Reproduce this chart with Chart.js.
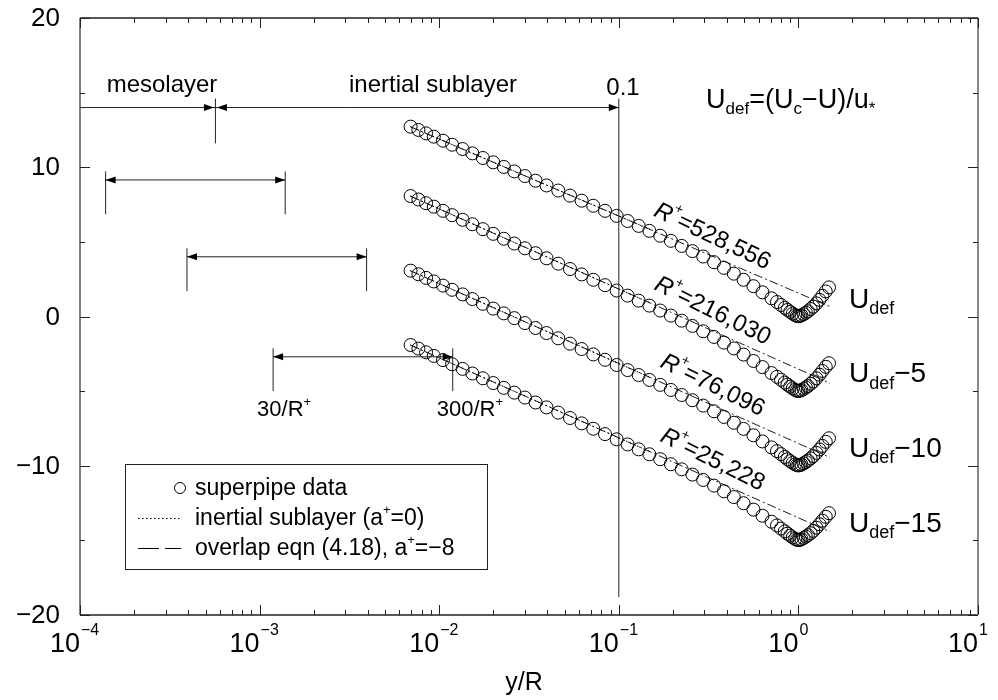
<!DOCTYPE html>
<html>
<head>
<meta charset="utf-8">
<script src="https://cdn.jsdelivr.net/npm/chart.js@4.4.0/dist/chart.umd.min.js"></script>
<style>
  html, body { margin: 0; padding: 0; background: #fff; }
  #wrap { width: 998px; height: 700px; position: relative; }
</style>
</head>
<body>
<div id="wrap"><canvas id="c"></canvas></div>
<script>
// Wall distance of the measurement stations, y/R
const yOverR = [0.00693, 0.00766, 0.00845, 0.00933, 0.0105, 0.0118, 0.0135, 0.0153, 0.0175, 0.0200,
  0.0229, 0.0262, 0.0300, 0.0344, 0.0396, 0.0460, 0.0535, 0.0621, 0.0721, 0.0838,
  0.0973, 0.112, 0.129, 0.148, 0.170, 0.195, 0.224, 0.257, 0.295, 0.339,
  0.385, 0.437, 0.495, 0.562, 0.631, 0.708, 0.76, 0.80, 0.84, 0.87,
  0.90, 0.93, 0.96, 0.98, 1.00, 1.02, 1.04, 1.07, 1.10, 1.13,
  1.17, 1.21, 1.26, 1.31, 1.36, 1.42, 1.48];

// Velocity defect (Uc-U)/u* for each Reynolds number
const udefR528556 = [12.72, 12.50, 12.27, 12.05, 11.78, 11.51, 11.22, 10.93, 10.62, 10.33,
  10.02, 9.72, 9.41, 9.10, 8.78, 8.44, 8.10, 7.76, 7.42, 7.08,
  6.74, 6.40, 6.07, 5.74, 5.41, 5.07, 4.73, 4.38, 4.02, 3.64,
  3.26, 2.87, 2.46, 2.03, 1.62, 1.22, 0.97, 0.77, 0.58, 0.44,
  0.31, 0.19, 0.09, 0.04, 0.02, 0.04, 0.08, 0.16, 0.25, 0.35,
  0.50, 0.66, 0.88, 1.12, 1.38, 1.68, 1.95];
const udefR216030 = [13.07, 12.84, 12.59, 12.36, 12.08, 11.79, 11.48, 11.18, 10.85, 10.54,
  10.21, 9.89, 9.57, 9.24, 8.90, 8.54, 8.18, 7.82, 7.46, 7.10,
  6.74, 6.40, 6.06, 5.73, 5.40, 5.06, 4.72, 4.37, 4.01, 3.63,
  3.25, 2.86, 2.45, 2.02, 1.61, 1.21, 0.96, 0.76, 0.57, 0.43,
  0.30, 0.18, 0.08, 0.03, 0.01, 0.03, 0.07, 0.15, 0.24, 0.34,
  0.49, 0.65, 0.86, 1.10, 1.35, 1.63, 1.87];
const udefR76096 = [13.07, 12.83, 12.59, 12.35, 12.07, 11.79, 11.48, 11.17, 10.85, 10.53,
  10.21, 9.89, 9.56, 9.23, 8.89, 8.54, 8.18, 7.82, 7.46, 7.10,
  6.75, 6.41, 6.08, 5.75, 5.42, 5.08, 4.74, 4.39, 4.03, 3.65,
  3.27, 2.88, 2.47, 2.04, 1.63, 1.23, 0.98, 0.78, 0.59, 0.44,
  0.31, 0.19, 0.09, 0.04, 0.02, 0.04, 0.08, 0.16, 0.25, 0.35,
  0.49, 0.65, 0.86, 1.09, 1.33, 1.60, 1.84];
const udefR25228 = [13.09, 12.85, 12.60, 12.36, 12.08, 11.80, 11.49, 11.18, 10.86, 10.54,
  10.22, 9.90, 9.57, 9.24, 8.91, 8.56, 8.20, 7.84, 7.48, 7.12,
  6.77, 6.43, 6.10, 5.77, 5.44, 5.10, 4.76, 4.41, 4.05, 3.67,
  3.29, 2.90, 2.49, 2.06, 1.65, 1.25, 1.00, 0.79, 0.60, 0.45,
  0.32, 0.20, 0.10, 0.04, 0.02, 0.04, 0.08, 0.16, 0.25, 0.35,
  0.48, 0.64, 0.85, 1.08, 1.32, 1.58, 1.82];

const udefSeries = [udefR528556, udefR216030, udefR76096, udefR25228];
const reynolds = [528556, 216030, 76096, 25228];
const reynoldsText = ['528,556', '216,030', '76,096', '25,228'];
const shifts = [0, 5, 10, 15];
const shiftText = ['', '\u22125', '\u221210', '\u221215'];

// Log-law fits: overlap eqn (a+ = -8) and inertial sublayer (a+ = 0)
const overlapX = [0.0069, 1.5];
const overlapStart = [12.72, 13.07, 13.07, 13.09];
const overlapEnd = [0.66, 0.53, 0.55, 0.57];
const inertialX = [0.0069, 0.15];
const inertialStart = [12.72, 13.07, 13.07, 13.09];
const inertialEnd = [5.83, 5.90, 5.91, 5.93];

// Axis ticks
const xTicks = [1e-4, 1e-3, 1e-2, 1e-1, 1, 10];
const xTickExp = ['\u22124', '\u22123', '\u22122', '\u22121', '0', '1'];
const yTicks = [-20, -10, 0, 10, 20];
const yTickText = ['\u221220', '\u221210', '0', '10', '20'];
const yMinorTicks = [-15, -5, 5, 15];

const FONT = '"Liberation Sans", Arial, Helvetica, sans-serif';

const datasets = [];
udefSeries.forEach((vals, i) => {
  datasets.push({
    label: 'overlap ' + i,
    data: overlapX.map((x, k) => ({ x, y: (k ? overlapEnd[i] : overlapStart[i]) - shifts[i] })),
    showLine: true, borderColor: '#000', borderWidth: 0.9, borderDash: [9, 3, 2, 3],
    pointRadius: 0, fill: false
  });
  datasets.push({
    label: 'inertial ' + i,
    data: inertialX.map((x, k) => ({ x, y: (k ? inertialEnd[i] : inertialStart[i]) - shifts[i] })),
    showLine: true, borderColor: '#000', borderWidth: 1, borderDash: [1.5, 2.5],
    pointRadius: 0, fill: false
  });
});
udefSeries.forEach((vals, i) => {
  datasets.push({
    label: 'superpipe ' + reynoldsText[i],
    data: yOverR.map((x, k) => ({ x, y: vals[k] - shifts[i] })),
    showLine: false, pointStyle: 'circle', pointRadius: 6.5,
    borderColor: '#000', borderWidth: 1, backgroundColor: 'rgba(0,0,0,0)'
  });
});

// Draws text made of runs with their own size, offset and style
function rich(ctx, parts, x, y, align) {
  let w = 0;
  parts.forEach(p => { ctx.font = (p.it ? 'italic ' : '') + p.s + 'px ' + FONT; p.w = ctx.measureText(p.t).width; w += p.w; });
  let cx = align === 'center' ? x - w / 2 : (align === 'right' ? x - w : x);
  ctx.textAlign = 'left';
  parts.forEach(p => {
    ctx.font = (p.it ? 'italic ' : '') + p.s + 'px ' + FONT;
    ctx.fillText(p.t, cx, y + (p.dy || 0));
    cx += p.w;
  });
  return w;
}

function arrowHead(ctx, x, y, dir) {
  ctx.beginPath();
  ctx.moveTo(x, y);
  ctx.lineTo(x - dir * 10, y - 3.5);
  ctx.lineTo(x - dir * 10, y + 3.5);
  ctx.closePath();
  ctx.fill();
}

const decor = {
  id: 'decor',
  afterDraw(chart) {
    const ctx = chart.ctx;
    const xs = chart.scales.x, ys = chart.scales.y;
    const a = chart.chartArea;
    const px = v => xs.getPixelForValue(v);
    const py = v => ys.getPixelForValue(v);
    ctx.save();
    ctx.fillStyle = '#000';
    ctx.strokeStyle = '#000';
    ctx.textBaseline = 'alphabetic';

    // frame
    ctx.lineWidth = 1.3;
    ctx.strokeStyle = '#222';
    ctx.beginPath();
    ctx.moveTo(a.left, a.top); ctx.lineTo(a.right, a.top);
    ctx.moveTo(a.left, a.bottom); ctx.lineTo(a.right, a.bottom);
    ctx.stroke();
    ctx.strokeStyle = '#555';
    ctx.lineWidth = 1.5;
    ctx.beginPath(); ctx.moveTo(a.left, a.top); ctx.lineTo(a.left, a.bottom); ctx.stroke();
    ctx.strokeStyle = '#888';
    ctx.lineWidth = 2;
    ctx.beginPath(); ctx.moveTo(a.right, a.top); ctx.lineTo(a.right, a.bottom); ctx.stroke();

    // x ticks, pointing inward from top and bottom
    ctx.strokeStyle = '#222';
    ctx.lineWidth = 1;
    ctx.beginPath();
    xTicks.forEach((t, i) => {
      const x = Math.round(px(t)) + 0.5;
      ctx.moveTo(x, a.bottom); ctx.lineTo(x, a.bottom - 10);
      ctx.moveTo(x, a.top); ctx.lineTo(x, a.top + 10);
      if (i < xTicks.length - 1) {
        for (let k = 2; k <= 9; k++) {
          const xm = Math.round(px(t * k)) + 0.5;
          ctx.moveTo(xm, a.bottom); ctx.lineTo(xm, a.bottom - 5);
          ctx.moveTo(xm, a.top); ctx.lineTo(xm, a.top + 5);
        }
      }
    });
    yTicks.forEach(t => {
      const y = Math.round(py(t)) + 0.5;
      ctx.moveTo(a.left, y); ctx.lineTo(a.left + 10, y);
      ctx.moveTo(a.right, y); ctx.lineTo(a.right - 10, y);
    });
    yMinorTicks.forEach(t => {
      const y = Math.round(py(t)) + 0.5;
      ctx.moveTo(a.left, y); ctx.lineTo(a.left + 5, y);
      ctx.moveTo(a.right, y); ctx.lineTo(a.right - 5, y);
    });
    ctx.stroke();

    // tick labels
    ctx.fillStyle = '#000';
    yTicks.forEach((t, i) => {
      ctx.font = '26px ' + FONT;
      ctx.textAlign = 'right';
      ctx.textBaseline = 'middle';
      ctx.fillText(yTickText[i], a.left - 20, py(t) + 1);
    });
    ctx.textBaseline = 'alphabetic';
    xTicks.forEach((t, i) => {
      const x = px(t);
      ctx.font = '27px ' + FONT;
      ctx.textAlign = 'right';
      ctx.fillText('10', x, 652);
      ctx.font = '16px ' + FONT;
      ctx.textAlign = 'left';
      ctx.fillText(xTickExp[i], x + 1, 635);
    });
    ctx.font = '25px ' + FONT;
    ctx.textAlign = 'center';
    ctx.fillText('y/R', (a.left + a.right) / 2 - 5, 690);

    // layer markers along the top
    ctx.lineWidth = 1;
    const meso = 300 / reynolds[0];
    const yTop = py(14);
    ctx.beginPath();
    ctx.moveTo(a.left, yTop); ctx.lineTo(px(0.1), yTop);
    ctx.moveTo(px(meso), py(14.6)); ctx.lineTo(px(meso), py(11.6));
    ctx.moveTo(px(0.1), py(14.6)); ctx.lineTo(px(0.1), py(-18.8));
    ctx.stroke();
    arrowHead(ctx, px(meso) - 1.5, yTop, 1);
    arrowHead(ctx, px(meso) + 1.5, yTop, -1);
    arrowHead(ctx, px(0.1), yTop, 1);
    ctx.font = '24px ' + FONT;
    ctx.textAlign = 'center';
    ctx.fillText('mesolayer', 162, 92);
    ctx.fillText('inertial sublayer', 433, 92);
    ctx.fillText('0.1', 623, 95);

    // 30/R+ .. 300/R+ ranges for the lower Reynolds numbers
    const rangeLevels = [null, 9.15, 4.0, -2.7];
    for (let i = 1; i < 4; i++) {
      const x0 = px(30 / reynolds[i]), x1 = px(300 / reynolds[i]);
      const y = py(rangeLevels[i]);
      ctx.beginPath();
      ctx.moveTo(x0, y); ctx.lineTo(x1, y);
      ctx.moveTo(x0, py(rangeLevels[i] + 0.57)); ctx.lineTo(x0, py(rangeLevels[i] - 2.3));
      ctx.moveTo(x1, py(rangeLevels[i] + 0.57)); ctx.lineTo(x1, py(rangeLevels[i] - 2.3));
      ctx.stroke();
      arrowHead(ctx, x0, y, -1);
      arrowHead(ctx, x1, y, 1);
    }
    const x30 = px(30 / reynolds[3]), x300 = px(300 / reynolds[3]);
    rich(ctx, [{ t: '30/R', s: 22 }, { t: '+', s: 13, dy: -10 }], x30 - 16, 416, 'left');
    rich(ctx, [{ t: '300/R', s: 22 }, { t: '+', s: 13, dy: -10 }], x300 - 16, 416, 'left');

    // defect definition
    rich(ctx, [
      { t: 'U', s: 27 }, { t: 'def', s: 17, dy: 6 }, { t: '=(U', s: 27 },
      { t: 'c', s: 17, dy: 6 }, { t: '\u2212U)/u', s: 27 }, { t: '*', s: 17, dy: 6 }
    ], 706, 108, 'left');

    // Reynolds number labels along the overlap lines and series names
    udefSeries.forEach((vals, i) => {
      const lx0 = Math.log10(overlapX[0]), lx1 = Math.log10(overlapX[1]);
      const xa = 0.30, f = (Math.log10(xa) - lx0) / (lx1 - lx0);
      const va = overlapStart[i] + f * (overlapEnd[i] - overlapStart[i]) - shifts[i];
      const ang = Math.atan2(py(overlapEnd[i]) - py(overlapStart[i]), px(overlapX[1]) - px(overlapX[0])) + 0.04;
      ctx.save();
      ctx.translate(px(xa), py(va));
      ctx.rotate(ang);
      ctx.textBaseline = 'middle';
      rich(ctx, [{ t: 'R', s: 24, it: true }, { t: '+', s: 14, dy: -10 }, { t: '=' + reynoldsText[i], s: 24 }], 0, -18, 'center');
      ctx.restore();

      ctx.textBaseline = 'middle';
      rich(ctx, [{ t: 'U', s: 28 }, { t: 'def', s: 18, dy: 9 }, { t: shiftText[i], s: 28 }], 849, py(1.1 - shifts[i]), 'left');
      ctx.textBaseline = 'alphabetic';
    });

    // legend
    ctx.lineWidth = 1;
    ctx.strokeStyle = '#222';
    ctx.strokeRect(125.5, 464.5, 362, 105);
    ctx.textBaseline = 'middle';
    ctx.font = '23px ' + FONT;
    ctx.textAlign = 'left';
    ctx.fillText('superpipe data', 195, 489);
    rich(ctx, [{ t: 'inertial sublayer (a', s: 23 }, { t: '+', s: 13, dy: -9 }, { t: '=0)', s: 23 }], 195, 519, 'left');
    rich(ctx, [{ t: 'overlap eqn (4.18), a', s: 23 }, { t: '+', s: 13, dy: -9 }, { t: '=\u22128', s: 23 }], 195, 549, 'left');
    ctx.strokeStyle = '#000';
    ctx.beginPath(); ctx.arc(180, 488, 5.5, 0, Math.PI * 2); ctx.stroke();
    ctx.setLineDash([1.5, 2.5]);
    ctx.beginPath(); ctx.moveTo(138, 518.5); ctx.lineTo(182, 518.5); ctx.stroke();
    ctx.setLineDash([21, 6]);
    ctx.beginPath(); ctx.moveTo(138, 548.5); ctx.lineTo(181, 548.5); ctx.stroke();
    ctx.restore();
  }
};

new Chart(document.getElementById('c'), {
  type: 'scatter',
  data: { datasets },
  options: {
    responsive: true,
    maintainAspectRatio: false,
    animation: false,
    layout: { padding: { left: 80, right: 20, top: 18, bottom: 85 } },
    plugins: { legend: { display: false }, tooltip: { enabled: false } },
    scales: {
      x: { type: 'logarithmic', min: 1e-4, max: 10, display: false },
      y: { type: 'linear', min: -20, max: 20, display: false }
    }
  },
  plugins: [decor]
});
</script>
</body>
</html>
